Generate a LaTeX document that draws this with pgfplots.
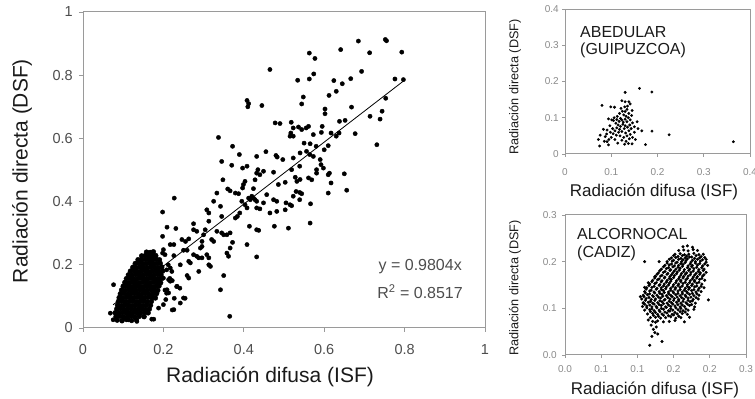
\documentclass[border=0pt]{standalone}
\usepackage{pgfplots}
\pgfplotsset{compat=1.18}
\usepackage{fontspec}
\setmainfont{Liberation Sans}
\definecolor{axgray}{HTML}{9A9A9A}
\definecolor{tkmain}{HTML}{4D4D4D}
\definecolor{tksmall}{HTML}{8A8A8A}
\definecolor{txt}{HTML}{1A1A1A}
\pgfplotsset{
  base/.style={scale only axis, anchor=south west,
    axis line style={draw=axgray, line width=1bp},
    tick style={draw=axgray, line width=0.8bp},
    tick align=outside, xtick pos=bottom, ytick pos=left,
    minor tick num=0},
}
\begin{document}
\begin{tikzpicture}
\path[use as bounding box] (0,0) rectangle (755bp,399bp);
% ---------------- main chart ----------------
\begin{axis}[base, at={(83bp,71bp)}, width=402bp, height=316bp,
  xmin=0, xmax=1, ymin=0, ymax=1,
  major tick length=4bp,
  xtick={0,0.2,0.4,0.6,0.8,1}, xticklabels={0,0.2,0.4,0.6,0.8,1},
  ytick={0,0.2,0.4,0.6,0.8,1}, yticklabels={0,0.2,0.4,0.6,0.8,1},
  xticklabel style={font=\fontsize{14.5bp}{17bp}\selectfont, text=tkmain, anchor=north, inner sep=0pt, yshift=-12bp},
  yticklabel style={font=\fontsize{14.5bp}{17bp}\selectfont, text=tkmain, anchor=east, inner sep=0pt, xshift=-6bp},
]
\addplot[only marks, mark=*, mark size=2.15pt, mark options={fill=black, draw=none}] coordinates {
(0.685,0.908)(0.752,0.913)(0.755,0.909)(0.793,0.873)(0.713,0.871)(0.641,0.881)(0.563,0.870)(0.577,0.853)(0.465,0.818)(0.693,0.812)(0.776,0.788)(0.797,0.786)(0.534,0.784)(0.563,0.788)(0.574,0.804)(0.624,0.783)(0.645,0.773)(0.666,0.789)(0.630,0.749)(0.612,0.736)(0.548,0.731)(0.753,0.727)(0.544,0.709)(0.408,0.720)(0.412,0.710)(0.410,0.700)(0.445,0.704)(0.668,0.699)(0.602,0.693)(0.602,0.678)(0.714,0.670)(0.744,0.686)(0.739,0.661)(0.652,0.657)(0.638,0.654)(0.478,0.649)(0.490,0.647)(0.518,0.651)(0.523,0.633)(0.536,0.636)(0.544,0.628)(0.555,0.633)(0.561,0.638)(0.595,0.638)(0.617,0.617)(0.630,0.607)(0.637,0.617)(0.677,0.615)(0.517,0.617)(0.523,0.607)(0.515,0.607)(0.573,0.612)(0.593,0.619)(0.337,0.603)(0.731,0.580)(0.550,0.585)(0.565,0.583)(0.372,0.575)(0.580,0.575)(0.600,0.564)(0.610,0.577)(0.455,0.558)(0.556,0.559)(0.564,0.549)(0.540,0.554)(0.389,0.549)(0.432,0.543)(0.480,0.546)(0.483,0.541)(0.573,0.543)(0.345,0.527)(0.497,0.533)(0.523,0.538)(0.590,0.533)(0.592,0.517)(0.370,0.515)(0.408,0.512)(0.397,0.506)(0.435,0.501)(0.432,0.490)(0.449,0.496)(0.440,0.485)(0.539,0.512)(0.581,0.501)(0.598,0.506)(0.613,0.490)(0.610,0.485)(0.650,0.488)(0.474,0.493)(0.519,0.501)(0.581,0.490)(0.348,0.469)(0.503,0.461)(0.528,0.477)(0.532,0.464)(0.540,0.470)(0.561,0.475)(0.569,0.469)(0.617,0.459)(0.403,0.464)(0.399,0.454)(0.428,0.469)(0.486,0.454)(0.424,0.441)(0.397,0.443)(0.360,0.440)(0.366,0.434)(0.379,0.427)(0.387,0.425)(0.333,0.427)(0.656,0.436)(0.610,0.427)(0.530,0.432)(0.539,0.429)(0.544,0.425)(0.523,0.417)(0.457,0.422)(0.412,0.411)(0.416,0.406)(0.428,0.406)(0.432,0.401)(0.424,0.411)(0.420,0.417)(0.474,0.406)(0.482,0.401)(0.505,0.396)(0.539,0.406)(0.566,0.393)(0.227,0.411)(0.395,0.401)(0.403,0.390)(0.408,0.380)(0.432,0.380)(0.440,0.377)(0.449,0.396)(0.325,0.401)(0.308,0.374)(0.313,0.364)(0.342,0.385)(0.482,0.369)(0.503,0.374)(0.515,0.390)(0.519,0.387)(0.465,0.364)(0.198,0.367)(0.384,0.353)(0.379,0.348)(0.390,0.364)(0.345,0.353)(0.313,0.338)(0.565,0.332)(0.511,0.316)(0.275,0.330)(0.209,0.319)(0.231,0.315)(0.414,0.322)(0.432,0.311)(0.437,0.309)(0.476,0.322)(0.304,0.311)(0.333,0.306)(0.345,0.301)(0.350,0.295)(0.358,0.295)(0.366,0.301)(0.275,0.311)(0.283,0.306)(0.198,0.290)(0.300,0.295)(0.296,0.274)(0.320,0.280)(0.325,0.274)(0.246,0.280)(0.255,0.274)(0.263,0.282)(0.217,0.264)(0.226,0.264)(0.296,0.258)(0.292,0.253)(0.372,0.271)(0.408,0.264)(0.366,0.253)(0.250,0.246)(0.259,0.246)(0.275,0.232)(0.283,0.227)(0.288,0.222)(0.296,0.222)(0.308,0.232)(0.313,0.222)(0.358,0.237)(0.362,0.227)(0.432,0.225)(0.200,0.248)(0.198,0.237)(0.204,0.232)(0.226,0.229)(0.242,0.200)(0.263,0.211)(0.267,0.206)(0.313,0.200)(0.317,0.195)(0.217,0.190)(0.221,0.179)(0.259,0.166)(0.263,0.158)(0.288,0.179)(0.350,0.166)(0.213,0.153)(0.217,0.148)(0.200,0.158)(0.234,0.132)(0.209,0.121)(0.213,0.111)(0.342,0.121)(0.250,0.095)(0.242,0.079)(0.226,0.058)(0.206,0.090)(0.200,0.074)(0.365,0.037)(0.171,0.028)(0.188,0.063)(0.076,0.137)(0.068,0.047)(0.075,0.026)(0.089,0.042)(0.113,0.026)(0.134,0.021)(0.176,0.028)(0.233,0.131)(0.241,0.126)(0.227,0.094)(0.254,0.094)(0.222,0.057)(0.208,0.184)(0.212,0.200)(0.216,0.157)(0.222,0.150)(0.204,0.120)(0.208,0.110)
};
% dense cluster of the main chart
\addplot[only marks, mark=*, mark size=2.5pt, mark options={fill=black, draw=none}] coordinates {
(0.085,0.025)(0.097,0.023)(0.108,0.027)(0.121,0.024)(0.133,0.026)
(0.082,0.036)(0.092,0.037)(0.101,0.035)(0.111,0.036)(0.120,0.038)(0.129,0.035)(0.140,0.037)(0.152,0.036)
(0.080,0.048)(0.089,0.047)(0.098,0.049)(0.107,0.048)(0.116,0.047)(0.125,0.049)(0.134,0.048)(0.143,0.047)(0.153,0.049)(0.162,0.048)
(0.084,0.060)(0.093,0.061)(0.102,0.059)(0.111,0.060)(0.120,0.061)(0.129,0.059)(0.138,0.060)(0.147,0.061)(0.156,0.059)(0.165,0.060)
(0.086,0.072)(0.095,0.071)(0.104,0.073)(0.113,0.072)(0.122,0.071)(0.131,0.073)(0.140,0.072)(0.149,0.071)(0.158,0.073)(0.168,0.072)
(0.088,0.084)(0.097,0.085)(0.106,0.083)(0.115,0.084)(0.124,0.085)(0.133,0.083)(0.142,0.084)(0.151,0.085)(0.160,0.083)(0.170,0.084)
(0.090,0.096)(0.099,0.095)(0.108,0.097)(0.117,0.096)(0.126,0.095)(0.135,0.097)(0.144,0.096)(0.153,0.095)(0.162,0.097)(0.172,0.096)(0.180,0.095)
(0.093,0.108)(0.102,0.109)(0.111,0.107)(0.120,0.108)(0.129,0.109)(0.138,0.107)(0.147,0.108)(0.156,0.109)(0.165,0.107)(0.174,0.108)(0.183,0.109)
(0.096,0.120)(0.105,0.119)(0.114,0.121)(0.123,0.120)(0.132,0.119)(0.141,0.121)(0.150,0.120)(0.159,0.119)(0.168,0.121)(0.177,0.120)(0.186,0.119)
(0.100,0.132)(0.109,0.133)(0.118,0.131)(0.127,0.132)(0.136,0.133)(0.145,0.131)(0.154,0.132)(0.163,0.133)(0.172,0.131)(0.181,0.132)(0.189,0.133)
(0.104,0.144)(0.113,0.143)(0.122,0.145)(0.131,0.144)(0.140,0.143)(0.149,0.145)(0.158,0.144)(0.167,0.143)(0.176,0.145)(0.185,0.144)(0.193,0.143)
(0.108,0.156)(0.117,0.157)(0.126,0.155)(0.135,0.156)(0.144,0.157)(0.153,0.155)(0.162,0.156)(0.171,0.157)(0.180,0.155)(0.189,0.156)(0.196,0.157)
(0.113,0.168)(0.122,0.167)(0.131,0.169)(0.140,0.168)(0.149,0.167)(0.158,0.169)(0.167,0.168)(0.176,0.167)(0.185,0.169)(0.194,0.168)
(0.118,0.180)(0.127,0.181)(0.136,0.179)(0.145,0.180)(0.154,0.181)(0.163,0.179)(0.172,0.180)(0.181,0.181)(0.190,0.179)(0.198,0.180)
(0.124,0.192)(0.133,0.191)(0.142,0.193)(0.151,0.192)(0.160,0.191)(0.169,0.193)(0.178,0.192)(0.187,0.191)(0.196,0.193)
(0.130,0.204)(0.139,0.205)(0.148,0.203)(0.157,0.204)(0.166,0.205)(0.175,0.203)(0.184,0.204)(0.192,0.205)
(0.137,0.216)(0.146,0.215)(0.155,0.217)(0.164,0.216)(0.173,0.215)(0.182,0.217)(0.190,0.216)
(0.146,0.228)(0.155,0.229)(0.164,0.227)(0.173,0.228)(0.181,0.229)
(0.158,0.240)(0.167,0.239)(0.175,0.241)
};
\addplot[black, line width=0.8bp] coordinates {(0.075,0.0735) (0.8,0.7843)};
\end{axis}
% ---------------- ABEDULAR ----------------
\begin{axis}[base, at={(565bp,245bp)}, width=185bp, height=145bp,
  xmin=0, xmax=0.4, ymin=0, ymax=0.4,
  major tick length=3bp,
  xtick={0,0.1,0.2,0.3,0.4}, xticklabels={0,0.1,0.2,0.3,0.4},
  ytick={0,0.1,0.2,0.3,0.4}, yticklabels={0,0.1,0.2,0.3,0.4},
  xticklabel style={font=\fontsize{10bp}{12bp}\selectfont, text=tksmall, anchor=north, inner sep=0pt, yshift=-11bp},
  yticklabel style={font=\fontsize{10bp}{12bp}\selectfont, text=tksmall, anchor=east, inner sep=0pt, xshift=-3bp},
]
\addplot[only marks, mark=*, mark size=1.25pt, mark options={fill=black, draw=none}] coordinates {
(0.161,0.181)(0.188,0.171)(0.130,0.170)(0.080,0.134)(0.099,0.130)(0.107,0.129)(0.364,0.034)(0.166,0.064)(0.188,0.063)(0.225,0.053)(0.174,0.026)(0.072,0.040)(0.076,0.052)(0.087,0.048)(0.091,0.034)(0.094,0.025)(0.075,0.022)(0.083,0.068)(0.091,0.066)(0.094,0.097)(0.101,0.094)(0.105,0.092)(0.156,0.089)(0.150,0.075)(0.145,0.120)
(0.123,0.147)(0.130,0.144)(0.138,0.144)(0.141,0.138)(0.134,0.123)(0.130,0.117)(0.138,0.112)(0.127,0.108)(0.120,0.098)(0.123,0.094)(0.130,0.096)(0.134,0.089)(0.141,0.094)
(0.110,0.085)(0.115,0.080)(0.120,0.076)(0.125,0.082)(0.130,0.078)(0.135,0.074)(0.140,0.080)(0.128,0.070)(0.118,0.068)(0.112,0.072)(0.108,0.064)(0.116,0.060)(0.123,0.062)(0.131,0.058)(0.138,0.064)(0.143,0.070)(0.104,0.056)(0.111,0.052)(0.119,0.050)(0.127,0.046)(0.134,0.050)(0.141,0.054)(0.100,0.046)(0.108,0.040)(0.123,0.038)(0.132,0.035)(0.139,0.042)(0.146,0.046)(0.098,0.060)(0.103,0.070)(0.097,0.078)(0.106,0.100)(0.113,0.104)(0.118,0.112)(0.124,0.118)(0.132,0.104)(0.137,0.100)(0.144,0.106)(0.126,0.088)(0.117,0.090)(0.112,0.095)(0.129,0.130)(0.135,0.132)(0.121,0.126)(0.146,0.086)(0.150,0.060)(0.090,0.055)(0.095,0.040)(0.085,0.035)(0.114,0.030)(0.129,0.027)(0.137,0.029)(0.152,0.040)(0.158,0.070)(0.145,0.028)
};
\end{axis}
% ---------------- ALCORNOCAL ----------------
\begin{axis}[base, at={(565bp,44bp)}, width=181bp, height=140bp,
  xmin=0, xmax=0.25, ymin=0, ymax=0.3,
  major tick length=3bp,
  xtick={0,0.05,0.1,0.15,0.2,0.25}, xticklabels={0.0,0.1,0.1,0.2,0.2,0.3},
  ytick={0,0.1,0.2,0.3}, yticklabels={0.0,0.1,0.2,0.3},
  xticklabel style={font=\fontsize{10bp}{12bp}\selectfont, text=tksmall, anchor=north, inner sep=0pt, yshift=-7bp},
  yticklabel style={font=\fontsize{10bp}{12bp}\selectfont, text=tksmall, anchor=east, inner sep=0pt, xshift=-5bp},
]
\addplot[only marks, mark=*, mark size=1.35pt, mark options={fill=black, draw=none}] coordinates {
(0.117,0.021)(0.134,0.029)(0.120,0.040)(0.124,0.048)(0.122,0.055)(0.126,0.060)(0.119,0.064)(0.128,0.045)(0.125,0.070)(0.115,0.075)(0.104,0.125)(0.110,0.145)(0.115,0.155)(0.130,0.200)(0.124,0.168)(0.110,0.200)(0.108,0.111)(0.198,0.118)(0.195,0.205)
(0.163,0.232)(0.169,0.234)(0.176,0.231)
(0.157,0.224)(0.164,0.225)(0.170,0.223)(0.177,0.226)(0.183,0.224)
(0.152,0.216)(0.159,0.217)(0.165,0.215)(0.171,0.216)(0.178,0.218)(0.185,0.215)(0.191,0.216)
(0.147,0.208)(0.153,0.209)(0.160,0.207)(0.166,0.208)(0.172,0.210)(0.179,0.207)(0.186,0.208)(0.193,0.209)
(0.141,0.200)(0.148,0.201)(0.155,0.199)(0.161,0.200)(0.167,0.202)(0.174,0.199)(0.180,0.200)(0.187,0.201)(0.195,0.199)
(0.138,0.192)(0.144,0.193)(0.151,0.191)(0.157,0.192)(0.163,0.194)(0.170,0.191)(0.176,0.192)(0.183,0.193)(0.190,0.191)(0.197,0.192)
(0.133,0.184)(0.140,0.185)(0.146,0.183)(0.153,0.184)(0.159,0.186)(0.165,0.183)(0.172,0.184)(0.178,0.185)(0.185,0.183)(0.192,0.184)
(0.129,0.176)(0.136,0.177)(0.142,0.175)(0.149,0.176)(0.155,0.178)(0.161,0.175)(0.168,0.176)(0.174,0.177)(0.181,0.175)(0.187,0.176)(0.195,0.177)
(0.125,0.168)(0.132,0.169)(0.138,0.167)(0.145,0.168)(0.151,0.170)(0.158,0.167)(0.164,0.168)(0.170,0.169)(0.177,0.167)(0.183,0.168)(0.190,0.169)
(0.121,0.160)(0.128,0.161)(0.134,0.159)(0.141,0.160)(0.147,0.162)(0.154,0.159)(0.160,0.160)(0.167,0.161)(0.173,0.159)(0.179,0.160)(0.186,0.162)(0.193,0.160)
(0.117,0.152)(0.124,0.153)(0.131,0.151)(0.137,0.152)(0.144,0.154)(0.150,0.151)(0.157,0.152)(0.163,0.153)(0.169,0.151)(0.176,0.152)(0.182,0.154)(0.189,0.152)
(0.113,0.144)(0.120,0.145)(0.127,0.143)(0.133,0.144)(0.140,0.146)(0.146,0.143)(0.153,0.144)(0.159,0.145)(0.166,0.143)(0.172,0.144)(0.179,0.146)(0.185,0.143)(0.192,0.144)
(0.110,0.136)(0.117,0.137)(0.123,0.135)(0.130,0.136)(0.136,0.138)(0.143,0.135)(0.149,0.136)(0.156,0.137)(0.162,0.135)(0.168,0.136)(0.175,0.138)(0.181,0.135)(0.188,0.136)
(0.108,0.128)(0.114,0.129)(0.121,0.127)(0.127,0.128)(0.134,0.130)(0.140,0.127)(0.146,0.128)(0.153,0.129)(0.159,0.127)(0.166,0.128)(0.172,0.130)(0.178,0.127)(0.185,0.128)
(0.106,0.120)(0.112,0.121)(0.119,0.119)(0.125,0.120)(0.132,0.122)(0.138,0.119)(0.145,0.120)(0.151,0.121)(0.157,0.119)(0.164,0.120)(0.170,0.122)(0.177,0.119)(0.184,0.120)
(0.108,0.112)(0.115,0.113)(0.121,0.111)(0.128,0.112)(0.134,0.114)(0.141,0.111)(0.147,0.112)(0.154,0.113)(0.160,0.111)(0.167,0.112)(0.173,0.114)(0.180,0.111)
(0.107,0.104)(0.113,0.105)(0.120,0.103)(0.126,0.104)(0.133,0.106)(0.139,0.103)(0.146,0.104)(0.152,0.105)(0.159,0.103)(0.165,0.104)(0.172,0.106)(0.179,0.103)
(0.110,0.096)(0.117,0.097)(0.123,0.095)(0.130,0.096)(0.136,0.098)(0.143,0.095)(0.149,0.096)(0.156,0.097)(0.163,0.095)(0.170,0.096)(0.178,0.098)
(0.114,0.088)(0.121,0.089)(0.128,0.087)(0.134,0.088)(0.141,0.090)(0.148,0.087)(0.155,0.088)(0.162,0.089)(0.169,0.087)
(0.118,0.080)(0.125,0.081)(0.132,0.079)(0.139,0.080)(0.146,0.082)(0.153,0.079)(0.160,0.080)(0.172,0.081)
(0.121,0.072)(0.128,0.073)(0.136,0.071)(0.144,0.072)(0.152,0.074)(0.165,0.071)
(0.150,0.213)(0.156,0.211)(0.162,0.213)(0.168,0.212)(0.175,0.210)(0.181,0.213)(0.188,0.211)
(0.144,0.205)(0.150,0.203)(0.157,0.205)(0.163,0.204)(0.169,0.206)(0.176,0.203)(0.183,0.205)(0.190,0.204)
(0.141,0.197)(0.147,0.195)(0.153,0.197)(0.160,0.196)(0.166,0.198)(0.173,0.195)(0.180,0.197)(0.186,0.196)(0.193,0.195)
(0.136,0.189)(0.143,0.187)(0.149,0.189)(0.156,0.188)(0.162,0.190)(0.169,0.187)(0.175,0.189)(0.182,0.188)(0.189,0.187)
(0.131,0.181)(0.138,0.179)(0.145,0.181)(0.151,0.180)(0.158,0.182)(0.164,0.179)(0.171,0.181)(0.177,0.180)(0.184,0.179)(0.191,0.181)
(0.127,0.173)(0.134,0.171)(0.141,0.173)(0.147,0.172)(0.154,0.174)(0.160,0.171)(0.166,0.173)(0.173,0.172)(0.179,0.171)(0.186,0.173)(0.192,0.172)
(0.124,0.165)(0.130,0.163)(0.137,0.165)(0.144,0.164)(0.150,0.166)(0.157,0.163)(0.163,0.165)(0.169,0.164)(0.176,0.163)(0.182,0.165)(0.189,0.164)
(0.120,0.157)(0.126,0.155)(0.133,0.157)(0.140,0.156)(0.146,0.158)(0.153,0.155)(0.160,0.157)(0.166,0.156)(0.172,0.155)(0.179,0.157)(0.185,0.156)
(0.116,0.149)(0.123,0.147)(0.130,0.149)(0.136,0.148)(0.143,0.150)(0.149,0.147)(0.156,0.149)(0.162,0.148)(0.169,0.147)(0.175,0.149)(0.182,0.148)(0.188,0.147)
(0.112,0.141)(0.119,0.139)(0.126,0.141)(0.133,0.140)(0.139,0.142)(0.146,0.139)(0.152,0.141)(0.159,0.140)(0.165,0.139)(0.171,0.141)(0.178,0.140)(0.184,0.139)
(0.111,0.133)(0.117,0.131)(0.124,0.133)(0.131,0.132)(0.137,0.134)(0.143,0.131)(0.150,0.133)(0.156,0.132)(0.162,0.131)(0.169,0.133)(0.176,0.132)(0.182,0.131)
(0.109,0.125)(0.116,0.123)(0.122,0.125)(0.129,0.124)(0.135,0.126)(0.142,0.123)(0.148,0.125)(0.155,0.124)(0.161,0.123)(0.167,0.125)(0.174,0.124)(0.181,0.123)
(0.111,0.117)(0.118,0.115)(0.124,0.117)(0.131,0.116)(0.137,0.118)(0.144,0.115)(0.150,0.117)(0.157,0.116)(0.163,0.115)(0.170,0.117)(0.176,0.116)
(0.110,0.109)(0.117,0.107)(0.123,0.109)(0.130,0.108)(0.136,0.110)(0.143,0.107)(0.149,0.109)(0.156,0.108)(0.162,0.107)(0.169,0.109)(0.175,0.108)
(0.113,0.101)(0.120,0.099)(0.127,0.101)(0.133,0.100)(0.140,0.102)(0.146,0.099)(0.153,0.101)(0.160,0.100)(0.167,0.099)
(0.118,0.093)(0.125,0.091)(0.131,0.093)(0.138,0.092)(0.145,0.094)(0.152,0.091)(0.159,0.093)(0.166,0.092)
(0.122,0.085)(0.129,0.083)(0.136,0.085)(0.143,0.084)(0.150,0.086)(0.157,0.083)
};
\end{axis}
% ---------------- labels and texts ----------------
\node[text=txt, font=\fontsize{21bp}{24bp}\selectfont] at (270bp,22bp) {Radiación difusa (ISF)};
\node[text=txt, font=\fontsize{21bp}{24bp}\selectfont, rotate=90] at (22bp,228bp) {Radiación directa (DSF)};
\node[text=txt, font=\fontsize{17bp}{20bp}\selectfont] at (654bp,207bp) {Radiación difusa (ISF)};
\node[text=txt, font=\fontsize{12.7bp}{15bp}\selectfont, rotate=90] at (515bp,312bp) {Radiación directa (DSF)};
\node[text=txt, font=\fontsize{17bp}{20bp}\selectfont] at (655bp,9bp) {Radiación difusa (ISF)};
\node[text=txt, font=\fontsize{12.7bp}{15bp}\selectfont, rotate=90] at (515bp,111bp) {Radiación directa (DSF)};
\node[text=txt, font=\fontsize{16bp}{19bp}\selectfont, anchor=base west, inner sep=0pt] at (580bp,361bp) {ABEDULAR};
\node[text=txt, font=\fontsize{16bp}{19bp}\selectfont, anchor=base west, inner sep=0pt] at (580bp,344bp) {(GUIPUZCOA)};
\node[text=txt, font=\fontsize{16bp}{19bp}\selectfont, anchor=base west, inner sep=0pt] at (577bp,159bp) {ALCORNOCAL};
\node[text=txt, font=\fontsize{16bp}{19bp}\selectfont, anchor=base west, inner sep=0pt] at (577bp,141bp) {(CADIZ)};
\node[text=tkmain, font=\fontsize{16bp}{19bp}\selectfont, anchor=east, inner sep=0pt] at (462bp,132bp) {y = 0.9804x};
\node[text=tkmain, font=\fontsize{16bp}{19bp}\selectfont, anchor=east, inner sep=0pt] at (463bp,107bp) {R\textsuperscript{2} = 0.8517};
\end{tikzpicture}
\end{document}
